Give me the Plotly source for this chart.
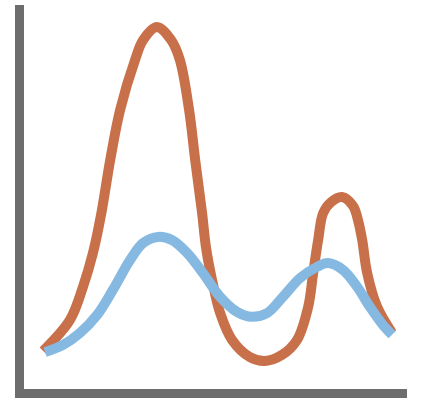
import plotly.graph_objects as go

# values (x and y both on a 0-100 scale)
orange_x = [5.0, 12.0, 15.4, 18.0, 20.2, 22.5, 25.1, 29.0, 31.1, 34.7, 38.4, 40.7, 43.1, 44.7,
            46.5, 47.5, 49.1, 51.2, 54.3, 59.0, 62.9, 67.4, 71.3, 74.2, 75.5, 76.8, 78.1,
            80.2, 83.0, 85.9, 87.2, 88.3, 89.6, 92.2, 96.1]
orange_y = [9.9, 18.0, 26.6, 35.4, 45.8, 59.6, 72.7, 85.7, 90.9, 94.3, 90.9, 85.7, 72.7, 59.6,
            45.8, 37.0, 28.4, 19.8, 12.8, 8.3, 7.3, 8.9, 12.8, 21.4, 30.2, 38.8, 45.8,
            48.7, 50.0, 47.7, 44.0, 38.8, 30.2, 21.4, 14.6]

blue_x = [5.5, 10.2, 14.6, 19.1, 23.2, 27.7, 31.1, 35.0, 38.6, 42.6, 46.7, 51.2, 55.6, 59.5,
          63.5, 67.6, 72.1, 76.5, 79.4, 83.3, 87.0, 90.3, 93.7, 96.1]
blue_y = [9.6, 11.5, 14.6, 19.3, 25.8, 33.6, 38.0, 39.6, 38.8, 35.4, 30.2, 24.0, 20.1, 18.8,
          19.8, 24.0, 28.9, 31.8, 32.8, 31.0, 26.6, 21.4, 16.7, 14.1]

fig = go.Figure()
fig.add_trace(go.Scatter(x=orange_x, y=orange_y, mode='lines',
                         line=dict(color='#C8704A', width=10, shape='spline', smoothing=1)))
fig.add_trace(go.Scatter(x=blue_x, y=blue_y, mode='lines',
                         line=dict(color='#85B9E2', width=10, shape='spline', smoothing=1)))

axis_style = dict(showline=True, linewidth=9, linecolor='#6d6d6d', showgrid=False,
                  zeroline=False, showticklabels=False, ticks='', fixedrange=True)
fig.update_xaxes(range=[0, 100], **axis_style)
fig.update_yaxes(range=[0, 100], **axis_style)

fig.update_layout(width=428, height=400, showlegend=False,
                  margin=dict(l=24, r=21, t=5, b=11),
                  plot_bgcolor='white', paper_bgcolor='white')
# drop the page's default body margin so the figure sits at the top left
fig.write_html("out.html", config={'displayModeBar': False},
               post_script="document.body.style.margin='0';")
